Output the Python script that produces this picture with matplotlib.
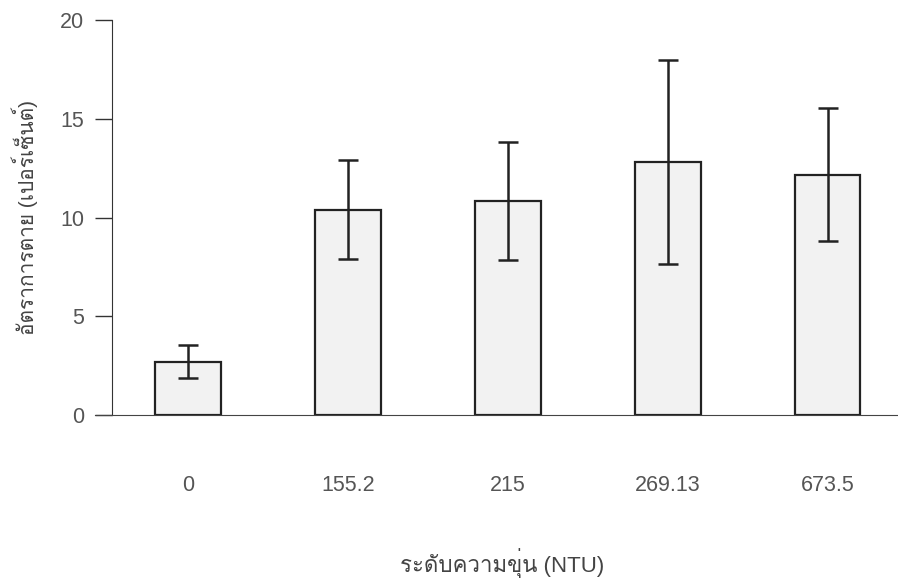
import matplotlib
matplotlib.use("Agg")
import matplotlib.pyplot as plt
from matplotlib import font_manager
from matplotlib.ft2font import FT2Font

categories = ["0", "155.2", "215", "269.13", "673.5"]
values = [2.68, 10.38, 10.84, 12.81, 12.15]
err_low = [1.87, 7.9, 7.85, 7.65, 8.81]
err_high = [3.54, 12.9, 13.8, 17.97, 15.54]
y_ticks = [0, 5, 10, 15, 20]
xlabel = "ระดับความขุ่น (NTU)"
ylabel = "อัตราการตาย (เปอร์เซ็นต์)"

# find a font with Thai glyphs
thai_family = None
for f in font_manager.fontManager.ttflist:
    try:
        cm = FT2Font(f.fname).get_charmap()
        if ord("ร") in cm and ord("ต") in cm:
            thai_family = f.name
            break
    except Exception:
        pass
families = ["Liberation Sans", "DejaVu Sans"]
if thai_family:
    families = ["Liberation Sans", thai_family, "DejaVu Sans"]
plt.rcParams["font.family"] = families

fig = plt.figure(figsize=(8.98, 5.85), dpi=100)
W, H = 898, 585
ax = fig.add_axes([112 / W, 1 - 415 / H, (898 - 112) / W, (415 - 20) / H])

x = list(range(len(categories)))
lo = [v - l for v, l in zip(values, err_low)]
hi = [h - v for v, h in zip(values, err_high)]
ax.bar(x, values, width=0.41, color="#f2f2f2", edgecolor="#222222", linewidth=1.6, zorder=2)
ax.errorbar(x, values, yerr=[lo, hi], fmt="none", ecolor="#222222", elinewidth=1.8,
            capsize=7, capthick=1.8, zorder=3)

ax.set_xlim(-0.475, 4.44)
ax.set_ylim(0, 20)
ax.set_yticks(y_ticks)
ax.set_xticks(x)
ax.set_xticklabels(categories)
ax.tick_params(axis="x", length=0, pad=43, labelsize=15.5, labelcolor="#555555")
ax.tick_params(axis="y", length=12, width=1.0, color="#333333", pad=8, labelsize=15.5,
               labelcolor="#555555")
for s in ["top", "right"]:
    ax.spines[s].set_visible(False)
ax.spines["left"].set_color("#333333")
ax.spines["bottom"].set_color("#444444")
ax.spines["bottom"].set_bounds(-0.58, 4.44)

ax.set_xlabel(xlabel, fontsize=16, color="#444444", va="center")
ax.xaxis.set_label_coords((502 - 112) / 786, (415 - 563) / 395)
ax.set_ylabel(ylabel, fontsize=15, color="#444444", va="center")
ax.yaxis.set_label_coords((25 - 112) / 786, 0.5 + (217 - 217) / 395)

fig.savefig("out.png", dpi=100, facecolor="white")
